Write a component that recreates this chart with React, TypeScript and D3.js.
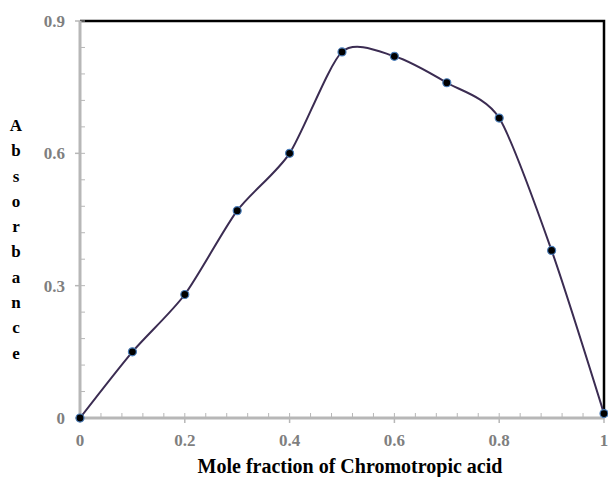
import React, { useEffect, useRef } from 'react';
import * as d3 from 'd3';

const moleFraction = [0, 0.1, 0.2, 0.3, 0.4, 0.5, 0.6, 0.7, 0.8, 0.9, 1];
const absorbance = [0, 0.15, 0.28, 0.47, 0.6, 0.83, 0.82, 0.76, 0.68, 0.38, 0.01];
const xTicks = [0, 0.2, 0.4, 0.6, 0.8, 1];
const yTicks = [0, 0.3, 0.6, 0.9];
const xTitle = 'Mole fraction of Chromotropic acid';
const yTitle = 'Absorbance';

export default function App() {
  const ref = useRef<SVGSVGElement>(null);

  useEffect(() => {
    const svg = d3.select(ref.current);
    svg.selectAll('*').remove();

    const W = 608, H = 477;
    const left = 80, right = 604, top = 21, bottom = 418;
    const font = '"Liberation Serif", "Times New Roman", serif';

    const x = d3.scaleLinear().domain([0, 1]).range([left, right]);
    const y = d3.scaleLinear().domain([0, 0.9]).range([bottom, top]);

    svg.attr('width', W).attr('height', H);

    // top and right borders
    svg.append('path')
      .attr('d', `M${left},${top}H${right}V${bottom}`)
      .attr('fill', 'none')
      .attr('stroke', '#000')
      .attr('stroke-width', 2.5);

    const gray = '#b7b7b7';

    // minor ticks (inside)
    const yMinor = d3.range(0, 0.9001, 0.06);
    svg.append('g').selectAll('line').data(yMinor).join('line')
      .attr('x1', left).attr('x2', left + 5)
      .attr('y1', d => y(d)).attr('y2', d => y(d))
      .attr('stroke', gray).attr('stroke-width', 1);
    const xMinor = d3.range(0, 1.0001, 0.04);
    svg.append('g').selectAll('line').data(xMinor).join('line')
      .attr('x1', d => x(d)).attr('x2', d => x(d))
      .attr('y1', bottom).attr('y2', bottom - 5)
      .attr('stroke', gray).attr('stroke-width', 1);

    // major ticks (outside)
    svg.append('g').selectAll('line').data(yTicks).join('line')
      .attr('x1', left - 5).attr('x2', left)
      .attr('y1', d => y(d)).attr('y2', d => y(d))
      .attr('stroke', gray).attr('stroke-width', 1.5);
    svg.append('g').selectAll('line').data(xTicks).join('line')
      .attr('x1', d => x(d)).attr('x2', d => x(d))
      .attr('y1', bottom).attr('y2', bottom + 5)
      .attr('stroke', gray).attr('stroke-width', 1.5);

    // left and bottom axes
    svg.append('path')
      .attr('d', `M${left},${top}V${bottom}H${right}`)
      .attr('fill', 'none')
      .attr('stroke', gray)
      .attr('stroke-width', 3);

    // tick labels
    const fmt = (d: number) => String(d);
    svg.append('g').selectAll('text').data(yTicks).join('text')
      .attr('x', left - 15).attr('y', d => y(d))
      .attr('dy', '0.35em')
      .attr('text-anchor', 'end')
      .attr('font-family', font).attr('font-weight', 'bold').attr('font-size', 17)
      .attr('fill', '#7f7f7f')
      .text(fmt);
    svg.append('g').selectAll('text').data(xTicks).join('text')
      .attr('x', d => x(d)).attr('y', 440)
      .attr('dy', '0.35em')
      .attr('text-anchor', 'middle')
      .attr('font-family', font).attr('font-weight', 'bold').attr('font-size', 17)
      .attr('fill', '#7f7f7f')
      .text(fmt);

    // axis titles
    svg.append('text')
      .attr('x', 350).attr('y', 466)
      .attr('dy', '0.35em')
      .attr('text-anchor', 'middle')
      .attr('font-family', font).attr('font-weight', 'bold').attr('font-size', 20)
      .attr('fill', '#000')
      .text(xTitle);

    svg.append('g').selectAll('text').data(yTitle.split('')).join('text')
      .attr('x', 16).attr('y', (_, i) => 125 + i * 25.3)
      .attr('dy', '0.35em')
      .attr('text-anchor', 'middle')
      .attr('font-family', font).attr('font-weight', 'bold').attr('font-size', 17)
      .attr('fill', '#000')
      .text(d => d);

    // smooth line
    const pts = moleFraction.map((m, i) => [m, absorbance[i]] as [number, number]);
    const line = d3.line<[number, number]>()
      .x(d => x(d[0])).y(d => y(d[1]))
      .curve(d3.curveCardinal.tension(0.25));
    svg.append('path')
      .datum(pts)
      .attr('d', line)
      .attr('fill', 'none')
      .attr('stroke', '#3b2c52')
      .attr('stroke-width', 2);

    // markers
    svg.append('g').selectAll('circle').data(pts).join('circle')
      .attr('cx', d => x(d[0])).attr('cy', d => y(d[1]))
      .attr('r', 4)
      .attr('fill', '#000')
      .attr('stroke', '#4a7ebb')
      .attr('stroke-width', 1.2);
  }, []);

  return (
    <div style={{ position: 'absolute', left: 0, top: 0 }}>
      <svg ref={ref} style={{ display: 'block' }} />
    </div>
  );
}
